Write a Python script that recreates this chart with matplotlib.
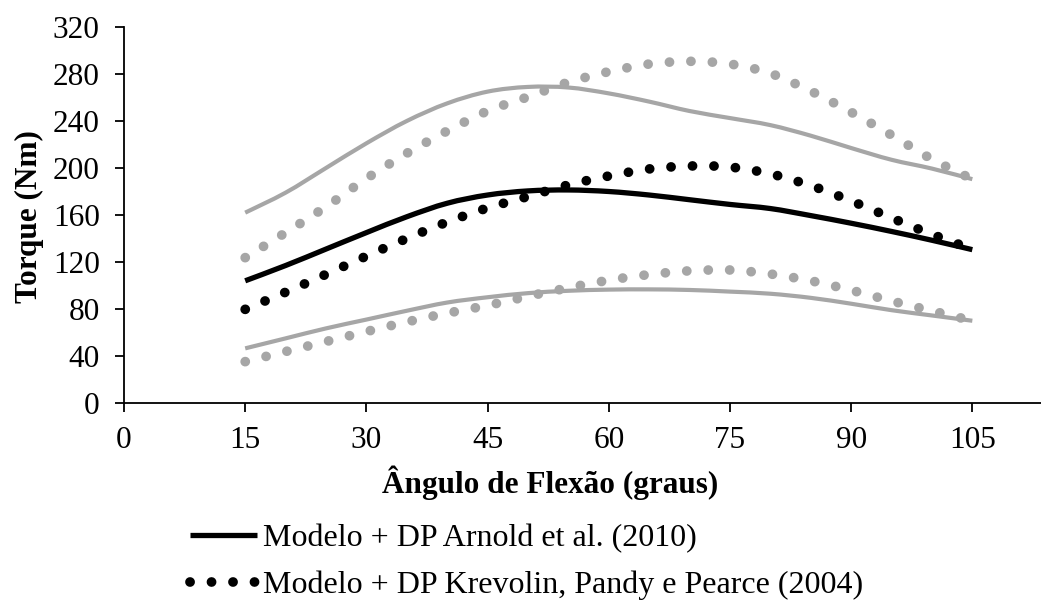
import matplotlib.pyplot as plt
import numpy as np
from matplotlib.path import Path
from matplotlib.patches import PathPatch
from matplotlib.lines import Line2D

plt.rcParams['font.family'] = ['Liberation Serif', 'DejaVu Serif']

# flexion angle (degrees)
angle = [15, 20, 25, 30, 35, 40, 45, 50, 55, 60, 65, 70, 75, 80, 85, 90, 95, 100, 105]

# Arnold et al. (2010): mean and +/- DP
arnold_mean = [104, 117, 131, 145, 158.5, 170, 177, 180.5, 181.3, 180, 177, 173, 169, 165.5, 159.5, 153, 146, 138.5, 130.5]
arnold_up = [162, 179, 200, 221, 240, 255, 265, 269, 268.5, 263.5, 256.5, 248.5, 242.5, 236.5, 227.5, 217, 207, 199.5, 190.5]
arnold_low = [46.5, 55, 63.5, 71, 78.5, 85.5, 90, 93.5, 95.5, 96.5, 96.7, 96.2, 94.8, 93, 89.5, 84.5, 79, 74.5, 70]

# Krevolin, Pandy e Pearce (2004): mean and +/- DP
krev_mean = [79.7, 94.3, 109.5, 125, 140, 154, 166, 175.7, 185.6, 193.2, 199.2, 201.7, 200.8, 195, 185, 172, 157.5, 143.5, 131]
krev_up = [123.7, 145, 167, 191, 212.5, 231.5, 248.5, 260.5, 273, 282, 288.5, 290.8, 288.5, 280.5, 265.5, 247.5, 228, 207.5, 190.5]
krev_low = [35.2, 43.8, 52.3, 60.8, 69, 76.5, 83, 90.8, 98, 104.5, 109.3, 112.5, 113.2, 109.8, 104, 96, 86.8, 78.4, 70]

gray = '#a6a6a6'
dot = (0, (0.01, 2.2))
FS = 22.5


def smooth_path(x, y):
    # Excel-like smoothed line: cubic Bezier segments through the data points
    p = np.column_stack([x, y]).astype(float)
    n = len(p)
    verts = [p[0]]
    codes = [Path.MOVETO]
    for i in range(n - 1):
        p0 = p[max(i - 1, 0)]
        p1 = p[i]
        p2 = p[i + 1]
        p3 = p[min(i + 2, n - 1)]
        verts += [p1 + (p2 - p0) / 6, p2 - (p3 - p1) / 6, p2]
        codes += [Path.CURVE4] * 3
    return Path(verts, codes)


def curve(ax, x, y, **kw):
    ax.add_patch(PathPatch(smooth_path(x, y), fill=False, transform=ax.transData, **kw))


fig = plt.figure(figsize=(10.41, 6.01), dpi=100)
ax = fig.add_axes([124 / 1041, 1 - 403 / 601, 1 - 124 / 1041, (403 - 27) / 601])

curve(ax, angle, arnold_up, edgecolor=gray, lw=3.0, capstyle='butt')
curve(ax, angle, arnold_low, edgecolor=gray, lw=3.0, capstyle='butt')
curve(ax, angle, arnold_mean, edgecolor='black', lw=3.8, capstyle='butt')

curve(ax, angle, krev_up, edgecolor=gray, lw=7, linestyle=dot, capstyle='round')
curve(ax, angle, krev_low, edgecolor=gray, lw=7, linestyle=dot, capstyle='round')
curve(ax, angle, krev_mean, edgecolor='black', lw=7, linestyle=dot, capstyle='round')

ax.set_xlim(0, 113.5)
ax.set_ylim(0, 320)
ax.set_xticks(np.arange(0, 106, 15))
ax.set_yticks(np.arange(0, 321, 40))
ax.spines['top'].set_visible(False)
ax.spines['right'].set_visible(False)
for s in ['left', 'bottom']:
    ax.spines[s].set_linewidth(1.3)
ax.tick_params(axis='both', labelsize=FS, length=6.5, width=1.3, direction='out')
ax.tick_params(axis='x', pad=10)
ax.tick_params(axis='y', pad=11)

ax.set_xlabel('Ângulo de Flexão (graus)', fontsize=FS, fontweight='bold')
ax.xaxis.set_label_coords((550 - 124) / (1041 - 124), -(466 - 403) / 376)
ax.set_ylabel('Torque (Nm)', fontsize=FS, fontweight='bold')
ax.yaxis.set_label_coords(-(124 - 44) / (1041 - 124), 0.495)

h1 = Line2D([], [], color='black', lw=3.8, solid_capstyle='butt')
h2 = Line2D([], [], color='black', lw=7, linestyle=dot, dash_capstyle='round')
fig.legend([h1, h2],
           ['Modelo + DP Arnold et al. (2010)', 'Modelo + DP Krevolin, Pandy e Pearce (2004)'],
           loc='center left', bbox_to_anchor=(190 / 1041, 1 - 562 / 601),
           frameon=False, fontsize=23, handlelength=2.1, handletextpad=0.2,
           labelspacing=0.52, borderpad=0, borderaxespad=0)

fig.savefig('out.png', dpi=100)
